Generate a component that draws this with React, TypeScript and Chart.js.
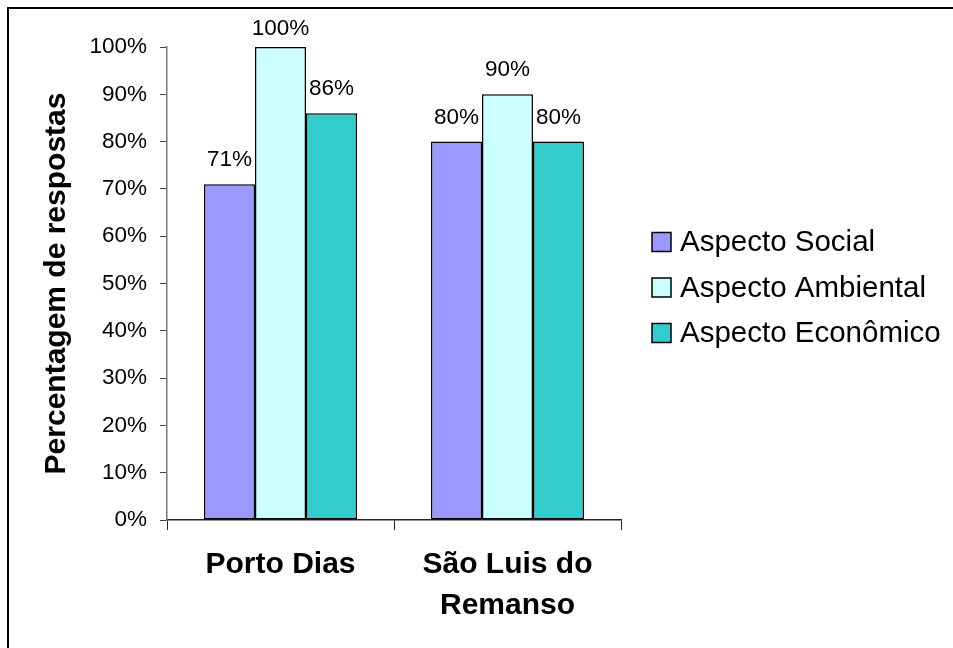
import React, { useEffect, useRef } from "react";
import { Chart, registerables } from "chart.js";

Chart.register(...registerables);

const categories: string[][] = [["Porto Dias"], ["São Luis do", "Remanso"]];
const seriesNames = ["Aspecto Social", "Aspecto Ambiental", "Aspecto Econômico"];
const socialValues = [71, 80];
const ambientalValues = [100, 90];
const economicoValues = [86, 80];
const seriesColors = ["#9999FF", "#CCFFFF", "#33CCCC"];
const yTickStep = 10;
const yTitle = "Percentagem de respostas";

const FONT = "Arial, 'Liberation Sans', sans-serif";

// Value labels above each bar
const valueLabels = {
  id: "valueLabels",
  afterDatasetsDraw(chart: any) {
    const { ctx, chartArea } = chart;
    ctx.save();
    ctx.font = `22.5px ${FONT}`;
    ctx.fillStyle = "#000";
    ctx.textAlign = "center";
    ctx.textBaseline = "alphabetic";
    chart.data.datasets.forEach((ds: any, i: number) => {
      const meta = chart.getDatasetMeta(i);
      meta.data.forEach((bar: any, j: number) => {
        const v = ds.data[j];
        const y = Math.max(bar.y - 18, chartArea.top - 12);
        ctx.fillText(`${Math.round(v)}%`, bar.x, y);
      });
    });
    ctx.restore();
  },
};

// Legend on the right, vertically centred on the plot
const sideLegend = {
  id: "sideLegend",
  afterDraw(chart: any) {
    const { ctx, chartArea } = chart;
    const datasets = chart.data.datasets;
    const rowGap = 45.5;
    const cy = (chartArea.top + chartArea.bottom) / 2 + 4;
    const boxX = chartArea.right + 31;
    const box = 19;
    ctx.save();
    ctx.font = `29.5px ${FONT}`;
    ctx.textBaseline = "middle";
    ctx.textAlign = "left";
    datasets.forEach((ds: any, i: number) => {
      const y = cy + (i - (datasets.length - 1) / 2) * rowGap;
      ctx.fillStyle = ds.backgroundColor;
      ctx.fillRect(boxX, y - box / 2, box, box);
      ctx.lineWidth = 1.5;
      ctx.strokeStyle = "#000";
      ctx.strokeRect(boxX, y - box / 2, box, box);
      ctx.fillStyle = "#000";
      ctx.fillText(ds.label, boxX + box + 9, y + 1);
    });
    ctx.restore();
  },
};

export default function App() {
  const canvasRef = useRef<HTMLCanvasElement | null>(null);

  useEffect(() => {
    if (!canvasRef.current) return;
    const seriesData = [socialValues, ambientalValues, economicoValues];
    const chart = new Chart(canvasRef.current, {
      type: "bar",
      data: {
        labels: categories,
        datasets: seriesNames.map((name, i) => ({
          label: name,
          data: seriesData[i],
          backgroundColor: seriesColors[i],
          borderColor: "#000",
          borderWidth: 1.5,
          borderSkipped: false,
          categoryPercentage: 0.674,
          barPercentage: 1.0,
        })),
      },
      options: {
        animation: false,
        responsive: false,
        maintainAspectRatio: false,
        devicePixelRatio: 1,
        layout: { padding: { top: 38, right: 332, left: 0, bottom: 0 } },
        plugins: {
          legend: { display: false },
          tooltip: { enabled: false },
        },
        scales: {
          x: {
            afterFit: (scale: any) => {
              scale.height = 128;
            },
            grid: {
              display: true,
              drawOnChartArea: false,
              drawTicks: true,
              tickLength: 10,
              color: "#222",
              offset: true,
            },
            border: { display: true, color: "#222", width: 1.5 },
            ticks: {
              color: "#000",
              padding: 14,
              maxRotation: 0,
              autoSkip: false,
              font: { family: FONT, size: 30, weight: "bold", lineHeight: 1.367 },
            },
          },
          y: {
            min: 0,
            max: 100,
            afterFit: (scale: any) => {
              scale.width = 158;
            },
            grid: {
              display: true,
              drawOnChartArea: false,
              drawTicks: true,
              tickLength: 7,
              color: "#444",
            },
            border: { display: true, color: "#777", width: 1.5 },
            ticks: {
              stepSize: yTickStep,
              color: "#000",
              padding: 13,
              font: { family: FONT, size: 22.5 },
              callback: (v: any) => `${v}%`,
            },
            title: {
              display: true,
              text: yTitle,
              color: "#000",
              padding: { top: 30, bottom: 0 },
              font: { family: FONT, size: 30, weight: "bold", lineHeight: 1.2 },
            },
          },
        },
      },
      plugins: [valueLabels, sideLegend],
    });
    return () => chart.destroy();
  }, []);

  return (
    <div
      style={{
        position: "absolute",
        left: 7,
        top: 7,
        borderTop: "2px solid #000",
        borderLeft: "2px solid #000",
        background: "#fff",
      }}
    >
      <canvas ref={canvasRef} width={944} height={639} style={{ display: "block", width: 944, height: 639 }} />
    </div>
  );
}
